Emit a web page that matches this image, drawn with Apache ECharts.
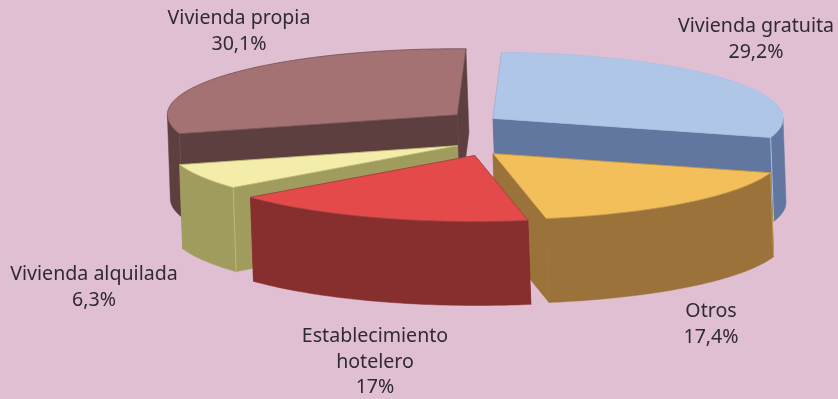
<!DOCTYPE html>
<html>
<head>
<meta charset="utf-8">
<style>
  html, body { margin: 0; padding: 0; background: #e0bfd2; }
  #main { width: 838px; height: 399px; }
</style>
<script src="https://cdn.jsdelivr.net/npm/echarts@6/dist/echarts.min.js"></script>
</head>
<body>
<div id="main"></div>
<script>
// datos, en sentido horario desde arriba
const categories = ['Vivienda gratuita', 'Otros', 'Establecimiento\nhotelero', 'Vivienda alquilada', 'Vivienda propia']
const values = [29.2, 17.4, 17, 6.3, 30.1]

// colores
const topColors = ['#afc6e7', '#f3bf5b', '#e54a4a', '#f4edaa', '#a47272']
const wallColors = ['#62779f', '#9b7239', '#872f2f', '#a09c5e', '#5e3f3f']
const edgeColors = ['#a5c0e8', '#c09a50', '#a84545', '#bdb978', '#6e5054']

// orden de pintado: de atras hacia delante
const drawOrder = [4, 0, 3, 1, 2]

// geometria de la tarta
const startDeg = 1.7
const cx = 476, cy = 133
const rx = 290, ry = 66
const explodeX = 21, explodeY = 25
const depth = 84, skew = 3
// ajuste fino de cada porcion [dx, dy]
const sliceNudge = [[0, 0], [3, 2], [6, -1], [0, 1], [-2, -3]]
// esquina con brillo en cada porcion
const highlightSide = ['end', 'start', 'none', 'start', 'start']

// posicion de las etiquetas [centro x, y superior]
const labelPos = [[756, 14], [711, 299], [375, 324], [94, 262], [239, 6]]

const total = values.reduce((a, b) => a + b, 0)
const rad = d => d * Math.PI / 180

function sliceAngles(i) {
  let before = 0
  for (let k = 0; k < i; k++) before += values[k]
  const a0 = startDeg + before / total * 360
  return [a0, a0 + values[i] / total * 360]
}

function renderSlice(params, api) {
  const i = api.value(0)
  const [a0, a1] = sliceAngles(i)
  const mid = rad((a0 + a1) / 2)
  const ox = cx + explodeX * Math.sin(mid) + sliceNudge[i][0]
  const oy = cy - explodeY * Math.cos(mid) + sliceNudge[i][1]

  // punto del borde exterior, h = 1 en la base
  const rim = (deg, h) => [
    ox + rx * Math.sin(rad(deg)) + h * skew,
    oy - ry * Math.cos(rad(deg)) + h * depth
  ]
  const apex = h => [ox + h * skew, oy + h * depth]

  const arcTop = []
  for (let d = a0; d < a1; d += 1) arcTop.push(rim(d, 0))
  arcTop.push(rim(a1, 0))

  // pared exterior: solo la parte que mira al frente (90-270 grados)
  const w0 = Math.max(a0, 90), w1 = Math.min(a1, 270)
  const wallTop = [], wallBottom = []
  for (let d = w0; d < w1; d += 1) {
    wallTop.push(rim(d, 0))
    wallBottom.push(rim(d, 1))
  }
  wallTop.push(rim(w1, 0))
  wallBottom.push(rim(w1, 1))

  const poly = (points, fill) => ({
    type: 'polygon',
    shape: { points: points },
    style: { fill: fill, stroke: fill, lineWidth: 0.5 }
  })
  const edge = deg => ({
    type: 'line',
    shape: { x1: rim(deg, 0)[0], y1: rim(deg, 0)[1], x2: rim(deg, 1)[0], y2: rim(deg, 1)[1] },
    style: { stroke: edgeColors[i], lineWidth: 1 }
  })

  const wall = wallColors[i]
  const children = [
    poly([apex(0), rim(a0, 0), rim(a0, 1), apex(1)], wall),
    poly([apex(0), rim(a1, 0), rim(a1, 1), apex(1)], wall),
    poly(wallTop.concat(wallBottom.slice().reverse()), wall)
  ]
  if (highlightSide[i] === 'start') children.push(edge(a0))
  if (highlightSide[i] === 'end') children.push(edge(a1))
  children.push({
    type: 'polygon',
    shape: { points: [apex(0)].concat(arcTop) },
    style: { fill: topColors[i], stroke: edgeColors[i], lineWidth: 0.8 }
  })
  return { type: 'group', children: children }
}

function labelText(i) {
  return categories[i] + '\n' + String(values[i]).replace('.', ',') + '%'
}

const mycharts = echarts.init(document.querySelector('#main'), null, { renderer: 'canvas' })
const option = {
  backgroundColor: '#e0bfd2',
  animation: false,
  graphic: categories.map((c, i) => ({
    type: 'text',
    x: labelPos[i][0],
    y: labelPos[i][1],
    z: 10,
    style: {
      text: labelText(i),
      fill: '#2f2a33',
      font: '19.6px "Noto Sans", sans-serif',
      lineHeight: 25.5,
      align: 'center',
      verticalAlign: 'top'
    }
  })),
  series: [
    {
      type: 'custom',
      coordinateSystem: 'none',
      renderItem: renderSlice,
      data: drawOrder.map(i => [i, values[i]])
    }
  ]
}
mycharts.setOption(option)
</script>
</body>
</html>
